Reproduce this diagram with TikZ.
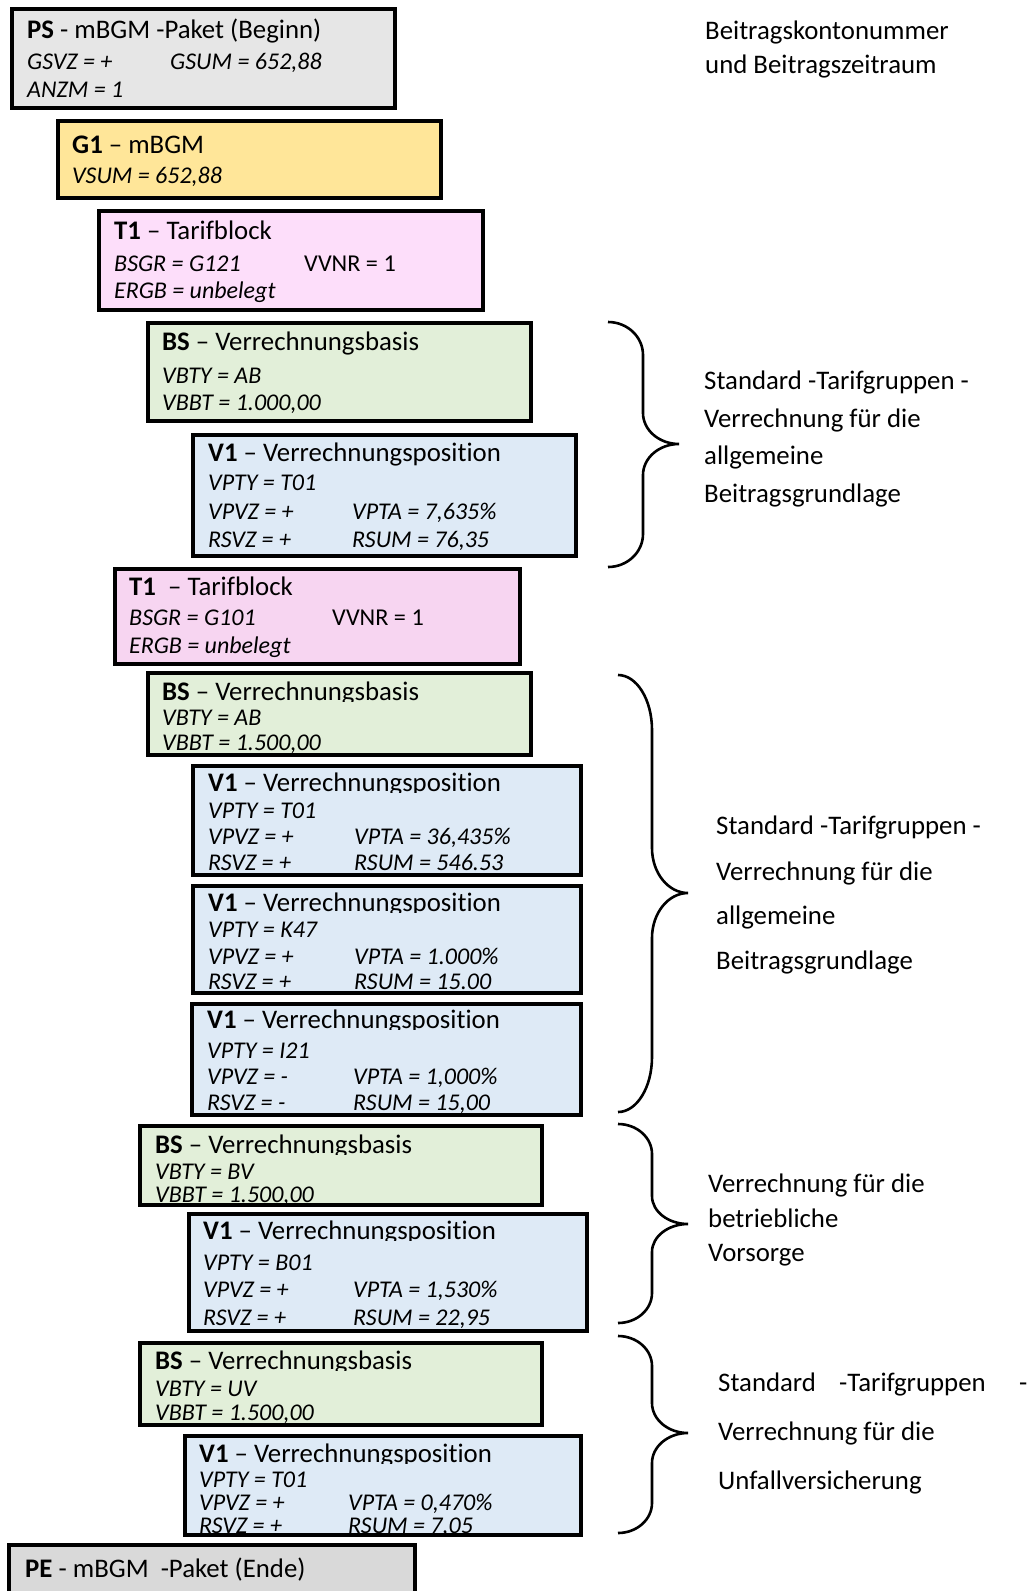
\documentclass[tikz,border=0pt]{standalone}
\usepackage{fontspec}
\setmainfont{Carlito}[Ligatures={NoCommon}]
\definecolor{psgray}{HTML}{E6E6E6}
\definecolor{pegray}{HTML}{D9D9D9}
\definecolor{gold}{HTML}{FFE699}
\definecolor{pinkA}{HTML}{FDDEFA}
\definecolor{pinkB}{HTML}{F7D5F1}
\definecolor{greenbs}{HTML}{E2EFD9}
\definecolor{bluev}{HTML}{DEEAF6}
\tikzset{
  boxst/.style={draw=black, line width=3.8pt, inner sep=0pt, outer sep=0pt},
  ttl/.style={anchor=base west, inner sep=0pt, font=\fontsize{26.8}{32}\selectfont},
  att/.style={anchor=base west, inner sep=0pt, font=\fontsize{24}{29}\selectfont\itshape},
  plainatt/.style={anchor=base west, inner sep=0pt, font=\fontsize{24.2}{29}\selectfont},
  lbl/.style={anchor=base west, inner sep=0pt, font=\fontsize{26.8}{32}\selectfont},
  bracest/.style={line width=2.6pt, draw=black},
}
% name, x1, y1, x2, y2, colour : box node, then clip to its interior
\newcommand\mkbox[6]{%
  \node[boxst, fill=#6, minimum width={#4-#2-3.8}, minimum height={#5-#3-3.8}] (#1) at ({(#2+#4)/2},{(#3+#5)/2}) {};
  \clip ({#2+1.9},{#3+1.9}) rectangle ({#4-1.9},{#5-1.9});}
% title whose descenders are cut: name, x, baseline, text
\newcommand\cuttitle[4]{%
  \begin{scope}\clip (0,{#3-40}) rectangle (1029,{#3+1.2});
  \node[ttl] (#1) at (#2,#3) {#4};\end{scope}}
% brace: x0 xv xt ytop ymid ybot r r2
\newcommand\mybrace[8]{%
  \draw[bracest] (#1,#4) .. controls ({#1+0.552*(#2-#1)},#4) and (#2,{#4+0.448*#7}) .. (#2,{#4+#7})
    -- (#2,{#5-#8}) .. controls (#2,{#5-0.448*#8}) and ({#3-0.552*(#3-#2)},#5) .. (#3,#5)
    .. controls ({#3-0.552*(#3-#2)},#5) and (#2,{#5+0.448*#8}) .. (#2,{#5+#8})
    -- (#2,{#6-#7}) .. controls (#2,{#6-0.448*#7}) and ({#1+0.552*(#2-#1)},#6) .. (#1,#6);}
\begin{document}
\begin{tikzpicture}[x=1pt,y=-1pt]
\useasboundingbox (0,0) rectangle (1029,1591);
\fill[white] (0,0) rectangle (1029,1591);

% PS
\begin{scope}
\mkbox{ps}{10}{7}{397}{110}{psgray}
\node[ttl] (psT) at (27,38) {\textbf{PS} - mBGM -Paket (Beginn)};
\node[att] (psA) at (27,69) {GSVZ = +};
\node[att] (psB) at (170,69) {GSUM = 652,88};
\node[att] (psC) at (27,97) {ANZM = 1};
\end{scope}

% G1
\begin{scope}
\mkbox{g1}{56}{119}{443}{200}{gold}
\node[ttl] (g1T) at (72,153) {\textbf{G1} – mBGM};
\node[att] (g1A) at (72,183) {VSUM = 652,88};
\end{scope}

% T1 a
\begin{scope}
\mkbox{t1a}{97}{209}{485}{312}{pinkA}
\node[ttl] (t1aT) at (114,239) {\textbf{T1} – Tarifblock};
\node[att] (t1aA) at (114,271) {BSGR = G121};
\node[plainatt] (t1aB) at (304,271) {VVNR = 1};
\node[att] (t1aC) at (114,298) {ERGB = unbelegt};
\end{scope}

% BS 1
\begin{scope}
\mkbox{bs1}{146}{321}{533}{423}{greenbs}
\node[ttl] (bs1T) at (162,350) {\textbf{BS} – Verrechnungsbasis};
\node[att] (bs1A) at (162,383) {VBTY = AB};
\node[att] (bs1B) at (162,410) {VBBT = 1.000,00};
\end{scope}

% V1 first
\begin{scope}
\mkbox{v1}{191}{433}{578}{558}{bluev}
\node[ttl] (v1T) at (208,461) {\textbf{V1} – Verrechnungsposition};
\node[att] (v1A) at (208,490) {VPTY = T01};
\node[att] (v1B) at (208,519) {VPVZ = +};
\node[att] (v1C) at (352,519) {VPTA = 7,635\%};
\node[att] (v1D) at (208,547) {RSVZ = +};
\node[att] (v1E) at (352,547) {RSUM = 76,35};
\end{scope}

% T1 b
\begin{scope}
\mkbox{t1b}{113}{567}{522}{666}{pinkB}
\node[ttl] (t1bT) at (129,595) {\textbf{T1}\ \ – Tarifblock};
\node[att] (t1bA) at (129,625) {BSGR = G101};
\node[plainatt] (t1bB) at (332,625) {VVNR = 1};
\node[att] (t1bC) at (129,653) {ERGB = unbelegt};
\end{scope}

% BS 2
\begin{scope}
\mkbox{bs2}{146}{671}{533}{757}{greenbs}
\cuttitle{bs2T}{162}{700}{\textbf{BS} – Verrechnungsbasis}
\node[att] (bs2A) at (162,725) {VBTY = AB};
\node[att] (bs2B) at (162,750) {VBBT = 1.500,00};
\end{scope}

% V1 a
\begin{scope}
\mkbox{v1a}{191}{764}{583}{877}{bluev}
\cuttitle{v1aT}{208}{791}{\textbf{V1} – Verrechnungsposition}
\node[att] (v1aA) at (208,818) {VPTY = T01};
\node[att] (v1aB) at (208,844) {VPVZ = +};
\node[att] (v1aC) at (354,844) {VPTA = 36,435\%};
\node[att] (v1aD) at (208,870) {RSVZ = +};
\node[att] (v1aE) at (354,870) {RSUM = 546.53};
\end{scope}

% V1 b
\begin{scope}
\mkbox{v1b}{191}{884}{583}{995}{bluev}
\cuttitle{v1bT}{208}{911}{\textbf{V1} – Verrechnungsposition}
\node[att] (v1bA) at (208,937) {VPTY = K47};
\node[att] (v1bB) at (208,964) {VPVZ = +};
\node[att] (v1bC) at (354,964) {VPTA = 1.000\%};
\node[att] (v1bD) at (208,989) {RSVZ = +};
\node[att] (v1bE) at (354,989) {RSUM = 15.00};
\end{scope}

% V1 c
\begin{scope}
\mkbox{v1c}{190}{1002}{583}{1117}{bluev}
\cuttitle{v1cT}{207}{1028}{\textbf{V1} – Verrechnungsposition}
\node[att] (v1cA) at (207,1058) {VPTY = I21};
\node[att] (v1cB) at (207,1084) {VPVZ = -};
\node[att] (v1cC) at (353,1084) {VPTA = 1,000\%};
\node[att] (v1cD) at (207,1110) {RSVZ = -};
\node[att] (v1cE) at (353,1110) {RSUM = 15,00};
\end{scope}

% BS 3
\begin{scope}
\mkbox{bs3}{138}{1124}{544}{1207}{greenbs}
\cuttitle{bs3T}{155}{1153}{\textbf{BS} – Verrechnungsbasis}
\node[att] (bs3A) at (155,1179) {VBTY = BV};
\node[att] (bs3B) at (155,1202) {VBBT = 1.500,00};
\end{scope}

% V1 d
\begin{scope}
\mkbox{v1d}{187}{1212}{589}{1333}{bluev}
\cuttitle{v1dT}{203}{1239}{\textbf{V1}\ – Verrechnungsposition}
\node[att] (v1dA) at (203,1270) {VPTY = B01};
\node[att] (v1dB) at (203,1297) {VPVZ = +};
\node[att] (v1dC) at (353,1297) {VPTA = 1,530\%};
\node[att] (v1dD) at (203,1325) {RSVZ = +};
\node[att] (v1dE) at (353,1325) {RSUM = 22,95};
\end{scope}

% BS 4
\begin{scope}
\mkbox{bs4}{138}{1341}{544}{1427}{greenbs}
\cuttitle{bs4T}{155}{1369}{\textbf{BS} – Verrechnungsbasis}
\node[att] (bs4A) at (155,1396) {VBTY = UV};
\node[att] (bs4B) at (155,1420) {VBBT = 1.500,00};
\end{scope}

% V1 e
\begin{scope}
\mkbox{v1e}{183}{1434}{583}{1537}{bluev}
\cuttitle{v1eT}{199}{1462}{\textbf{V1} – Verrechnungsposition}
\node[att] (v1eA) at (199,1487) {VPTY = T01};
\node[att] (v1eB) at (199,1510) {VPVZ = +};
\node[att] (v1eC) at (348,1510) {VPTA = 0,470\%};
\node[att] (v1eD) at (199,1533) {RSVZ = +};
\node[att] (v1eE) at (348,1533) {RSUM = 7,05};
\end{scope}

% PE
\begin{scope}
\mkbox{pe}{7}{1543}{417}{1600}{pegray}
\node[ttl] (peT) at (25,1577) {\textbf{PE} - mBGM\ \ -Paket (Ende)};
\end{scope}

% top right text
\node[lbl] (hdrA) at (705,39) {Beitragskontonummer};
\node[lbl] (hdrB) at (705,73) {und Beitragszeitraum};

% brace 1
\mybrace{608}{643}{679}{322}{444}{567}{33}{31}
\node[lbl] (b1A) at (704,389) {Standard -Tarifgruppen -};
\node[lbl] (b1B) at (704,427) {Verrechnung für die};
\node[lbl] (b1C) at (704,464) {allgemeine};
\node[lbl] (b1D) at (704,502) {Beitragsgrundlage};

% brace 2
\mybrace{618}{652}{688}{675}{893}{1112}{55}{45}
\node[lbl] (b2A) at (716,834) {Standard -Tarifgruppen -};
\node[lbl] (b2B) at (716,880) {Verrechnung für die};
\node[lbl] (b2C) at (716,924) {allgemeine};
\node[lbl] (b2D) at (716,969) {Beitragsgrundlage};

% brace 3
\mybrace{618}{652}{688}{1124}{1224}{1323}{30}{28}
\node[lbl] (b3A) at (708,1192) {Verrechnung für die};
\node[lbl] (b3B) at (708,1227) {betriebliche};
\node[lbl] (b3C) at (708,1261) {Vorsorge};

% brace 4
\mybrace{618}{652}{688}{1336}{1433}{1533}{30}{30}
\node[lbl] (b4A) at (718,1391) {Standard};
\node[lbl] (b4B) at (839,1391) {-Tarifgruppen};
\node[lbl] (b4C) at (1019,1391) {-};
\node[lbl] (b4D) at (718,1440) {Verrechnung für die};
\node[lbl] (b4E) at (718,1489) {Unfallversicherung};
\end{tikzpicture}
\end{document}
